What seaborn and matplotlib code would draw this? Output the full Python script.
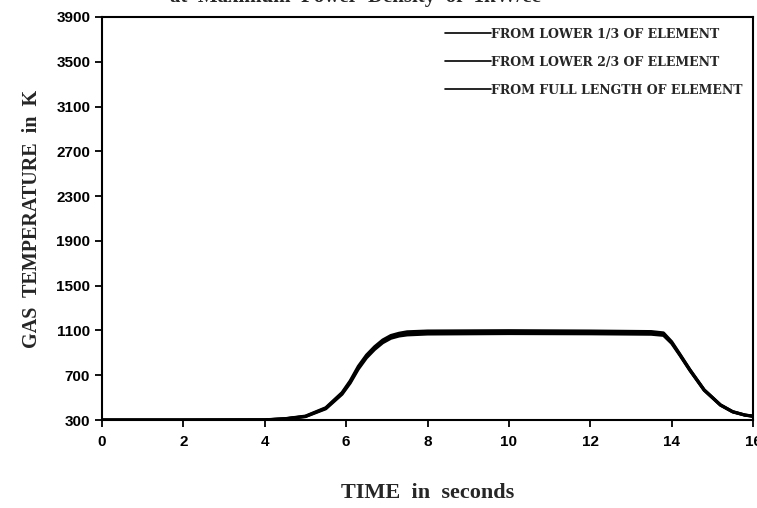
import matplotlib
matplotlib.use("Agg")
import matplotlib.pyplot as plt
import seaborn as sns
import pandas as pd

time_s = [0, 2, 4, 4.5, 5, 5.5, 5.9, 6.1, 6.3, 6.5, 6.7, 6.9, 7.1, 7.3, 7.5, 8, 10, 12,
          13.5, 13.8, 14.0, 14.2, 14.45, 14.8, 15.2, 15.5, 15.8, 16]
temp_lower_third = [300, 300, 301, 310, 330, 400, 530, 630, 755, 855, 930, 990, 1030, 1050,
                    1060, 1068, 1072, 1070, 1066, 1056, 985, 880, 742, 565, 432, 372, 343, 333]
temp_lower_two_thirds = [300, 300, 301, 311, 332, 405, 538, 640, 768, 868, 943, 1003, 1043, 1063,
                         1074, 1082, 1085, 1083, 1078, 1067, 993, 885, 746, 568, 434, 374, 344, 334]
temp_full_length = [300, 300, 302, 312, 335, 410, 545, 650, 780, 880, 955, 1015, 1055, 1075,
                    1088, 1095, 1098, 1095, 1090, 1078, 1000, 890, 750, 570, 436, 375, 345, 335]
series_labels = ["FROM LOWER 1/3 OF ELEMENT", "FROM LOWER 2/3 OF ELEMENT",
                 "FROM FULL LENGTH OF ELEMENT"]
y_ticks = [300, 700, 1100, 1500, 1900, 2300, 2700, 3100, 3500, 3900]
x_ticks = [0, 2, 4, 6, 8, 10, 12, 14, 16]

frames = []
for lab, vals in zip(series_labels, [temp_lower_third, temp_lower_two_thirds, temp_full_length]):
    frames.append(pd.DataFrame({"time": time_s, "temp": vals, "series": lab}))
df = pd.concat(frames, ignore_index=True)

sns.set_style("ticks")
plt.rcParams["font.family"] = ["Liberation Serif", "DejaVu Serif"]

fig = plt.figure(figsize=(7.57, 5.08), dpi=100)
ax = fig.add_axes([102 / 757, 1 - 420 / 508, 651 / 757, 403 / 508])

sns.lineplot(data=df, x="time", y="temp", hue="series",
             palette=["black", "black", "black"], linewidth=2.2, ax=ax, legend=True)

ax.set_xlim(0, 16)
ax.set_ylim(300, 3900)
ax.set_xticks(x_ticks)
ax.set_yticks(y_ticks)
ax.tick_params(axis="both", direction="out", length=5, width=1.3, labelsize=11,
               colors="black")
ax.tick_params(axis="x", pad=6)
for lbl in ax.get_xticklabels() + ax.get_yticklabels():
    lbl.set_fontfamily(["Liberation Sans Narrow", "Liberation Sans", "DejaVu Sans"])
    lbl.set_fontweight("bold")
for sp in ax.spines.values():
    sp.set_linewidth(1.5)
    sp.set_color("black")

ax.set_xlabel("TIME  in  seconds", fontsize=16, fontweight="bold", labelpad=24)
ax.set_ylabel("GAS  TEMPERATURE  in  K", fontsize=14.5, fontweight="bold", labelpad=10)

leg = ax.legend(loc="upper right", frameon=False,
                prop={"family": ["DejaVu Serif"], "weight": "bold", "size": 9.0},
                handlelength=3.7, handletextpad=0.0, labelspacing=1.2,
                borderaxespad=0.45)
for h in leg.get_lines():
    h.set_linewidth(1.2)

fig.text(0.47, 1.005, "at  Maximum  Power  Density  of  1kW/cc", ha="center", va="center",
         fontsize=15, fontweight="bold")

fig.savefig("out.png", dpi=100)
